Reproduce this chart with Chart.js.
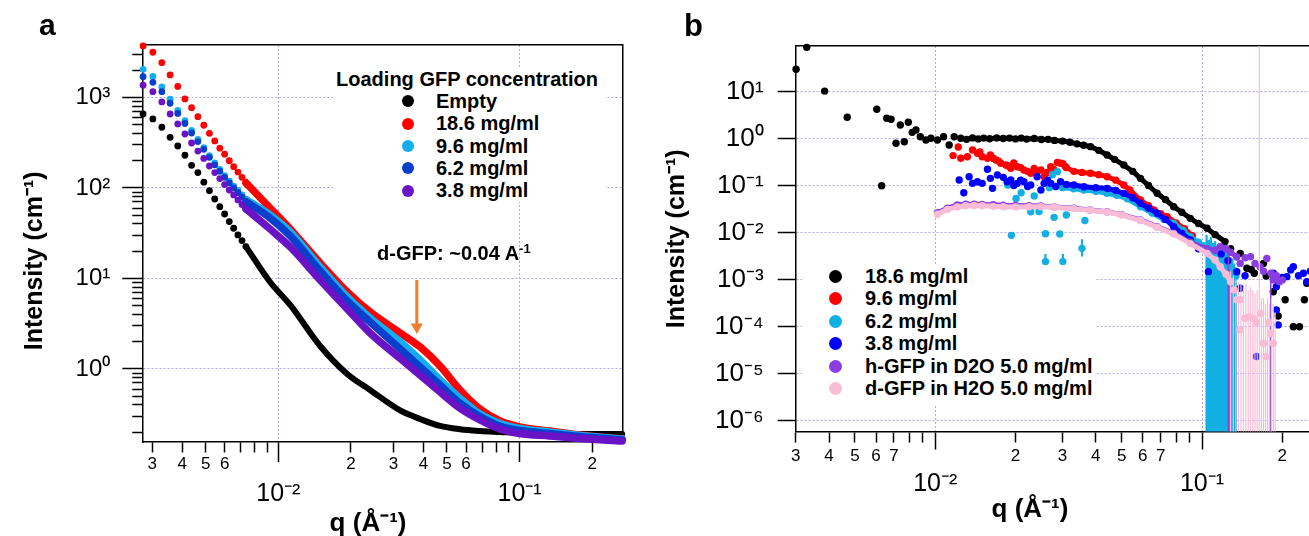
<!DOCTYPE html>
<html>
<head>
<meta charset="utf-8">
<title>GFP loading SANS</title>
<script src="https://cdn.jsdelivr.net/npm/chart.js@4.4.1/dist/chart.umd.min.js"></script>
<style>
  html, body { margin: 0; padding: 0; background: #fff; }
  body { position: relative; width: 1309px; height: 536px; overflow: hidden;
         font-family: "Liberation Sans", Arial, Helvetica, sans-serif; color: #000; }
  canvas { position: absolute; top: 0; }
  #chart-a { left: 0; }
  #chart-b { left: 660px; }
  .tag { position: absolute; font-weight: bold; line-height: 1; }
  .legend { position: absolute; background: #fff; font-weight: bold; font-size: 20px; }
  .legend .row { display: flex; align-items: center; white-space: nowrap; }
  .legend .dot { border-radius: 50%; flex: none; }
  .note { position: absolute; font-weight: bold; font-size: 20px; line-height: 20px; white-space: nowrap; }
  .note sup { font-size: 13px; vertical-align: 7px; line-height: 0; }
</style>
</head>
<body>
<canvas id="chart-a" width="660" height="536"></canvas>
<canvas id="chart-b" width="680" height="536"></canvas>
<div class="tag" style="left:39px;top:10px;font-size:30px">a</div>
<div class="tag" style="left:684px;top:10px;font-size:31px">b</div>
<div id="legend-a" class="legend" style="left:333px;top:68px;width:268px;padding-right:4px"></div>
<div id="legend-b" class="legend" style="left:802px;top:265px;width:294px;padding-bottom:6px"></div>
<div class="note" style="left:377px;top:243px">d-GFP: ~0.04 A<sup>-1</sup></div>
<script>
// ---- panel a: loading GFP concentration ----
const aNames = ['Empty', '18.6 mg/ml', '9.6 mg/ml', '6.2 mg/ml', '3.8 mg/ml'];
const aColors = ['#000000', '#ff0000', '#14aef0', '#0a3fcb', '#6a12c6'];

// low q, individual points
const aQLow = [0.00275, 0.00302, 0.00329, 0.00356, 0.00383, 0.0041, 0.00437, 0.00464, 0.00491, 0.00518,
  0.00545, 0.00572, 0.00599, 0.00626, 0.00653, 0.0068, 0.00707, 0.00734];
const aEmptyLow = [657, 579, 469, 363, 291, 230, 178, 148, 116, 93.3, 75.5, 62.1, 51.6, 42.5, 35.9, 30.3, 26.2, 22.5];
const a186Low = [3707, 3158, 2424, 1773, 1323, 963, 771, 614, 493, 402, 331, 275, 236, 200, 172, 150, 131, 114];
const a96Low = [2049, 1706, 1306, 958, 719, 553, 434, 344, 279, 228, 189, 160, 137, 119, 105, 93.8, 83.7, 74.6];
const a62Low = [1697, 1472, 1159, 863, 666, 516, 405, 326, 267, 218, 180, 153, 131, 114, 100, 88.7, 79.1, 70.6];
const a38Low = [1364, 1159, 894, 657, 510, 395, 314, 256, 212, 175, 148, 127, 109, 95.0, 83.7, 73.7, 65.7, 58.6];

// higher q, where the points merge into a band
const aQHigh = [0.00734, 0.00924, 0.0112, 0.0149, 0.0193, 0.024, 0.032, 0.0387, 0.0468, 0.0566,
  0.0685, 0.0829, 0.1, 0.133, 0.178, 0.266];
const aEmptyHigh = [22.5, 9.15, 5.10, 1.795, 0.881, 0.586, 0.348, 0.280, 0.2346, 0.2157, 0.2065, 0.2013, 0.1963, 0.193, 0.191, 0.191];
const a186High = [114, 60.1, 35.2, 14.8, 7.09, 4.26, 2.50, 1.75, 1.079, 0.586, 0.361, 0.266, 0.229, 0.206, 0.1865, 0.1684];
const a96High = [74.6, 50.3, 32.7, 13.4, 6.25, 3.66, 1.99, 1.257, 0.756, 0.4745, 0.318, 0.250, 0.220, 0.201, 0.184, 0.168];
const a62High = [70.6, 46.6, 29.5, 12.1, 5.64, 3.31, 1.66, 1.052, 0.666, 0.418, 0.299, 0.2346, 0.209, 0.1937, 0.1795, 0.1643];
const a38High = [58.6, 35.2, 22.3, 9.62, 4.60, 2.50, 1.306, 0.858, 0.557, 0.368, 0.273, 0.2173, 0.1937, 0.1818, 0.1706, 0.160];

// orange marker at the d-GFP shoulder
const aArrowQ = [0.0375, 0.0375];
const aArrowI = [9.6, 2.91];

// axis ticks, panel a
const aXDecades = [0.01, 0.1];
const aXDecadeText = ['10⁻²', '10⁻¹'];
const aXMinor = [0.003, 0.004, 0.005, 0.006, 0.007, 0.008, 0.009, 0.02, 0.03, 0.04, 0.05, 0.06, 0.07, 0.08, 0.09, 0.2];
const aXMinorText = ['3', '4', '5', '6', '', '', '', '2', '3', '4', '5', '6', '', '', '', '2'];
const aYDecades = [1, 10, 100, 1000];
const aYDecadeText = ['10⁰', '10¹', '10²', '10³'];
const aYMinor = [0.2, 0.3, 0.4, 0.5, 0.6, 0.7, 0.8, 0.9, 2, 3, 4, 5, 6, 7, 8, 9,
  20, 30, 40, 50, 60, 70, 80, 90, 200, 300, 400, 500, 600, 700, 800, 900, 2000, 3000];

// ---- panel b: protein in solution ----
const bNames = ['18.6 mg/ml', '9.6 mg/ml', '6.2 mg/ml', '3.8 mg/ml', 'h-GFP in D2O 5.0 mg/ml', 'd-GFP in H2O 5.0 mg/ml'];
const bColors = ['#000000', '#ff0000', '#12afe3', '#0000ff', '#8a3ee0', '#f9bcd6'];

const bBlackLowQ = [0.00301, 0.0033, 0.00385, 0.00468, 0.00604, 0.0063, 0.00658, 0.00683, 0.00713, 0.0074, 0.00766,
  0.00793, 0.0082, 0.00847, 0.00879, 0.00923, 0.00964, 0.0102, 0.01075, 0.01128, 0.01178, 0.01247];
const bBlackLowI = [29.7, 87, 10.2, 2.83, 4.18, 0.099, 2.69, 2.56, 0.79, 1.94, 0.855,
  2.21, 1.35, 1.52, 1.09, 0.93, 1.01, 0.93, 1.09, 0.727, 1.09, 1.01];
const bBlackMidQ = [0.0131, 0.0138, 0.0145, 0.0152, 0.016, 0.017, 0.018, 0.019, 0.02, 0.021, 0.022, 0.0235, 0.025,
  0.0265, 0.028, 0.03, 0.032, 0.034, 0.036, 0.0382, 0.041, 0.0441, 0.047, 0.0509, 0.055, 0.0588, 0.063, 0.0679,
  0.073, 0.0783, 0.084, 0.0904, 0.097, 0.1045, 0.112, 0.122];
const bBlackMidI = [0.96, 1.03, 0.98, 1.02, 0.99, 1.03, 1.0, 1.02, 0.98, 1.02, 0.97, 1.0, 0.95,
  0.96, 0.91, 0.88, 0.83, 0.77, 0.72, 0.67, 0.56, 0.446, 0.36, 0.273, 0.2, 0.142, 0.1, 0.0682,
  0.05, 0.0354, 0.027, 0.02, 0.0155, 0.0123, 0.009, 0.0064];
const bBlackHighQ = [0.128, 0.139, 0.1473, 0.153, 0.157, 0.17, 0.174, 0.185, 0.193, 0.205, 0.22, 0.232, 0.242, 0.247, 0.262, 0.285];
const bBlackHighI = [0.0045, 0.0036, 0.00173, 0.00164, 0.00136, 0.0022, 0.00118, 0.00055, 0.000167, 0.00037,
  0.000099, 0.000099, 0.00037, 0.00083, 0.0009, 0.0011];

const bRedLowQ = [0.01167, 0.0122, 0.01247, 0.0132, 0.0138, 0.0144, 0.0147, 0.015, 0.0157, 0.0161, 0.0165, 0.0169,
  0.0173, 0.0176, 0.0184, 0.0188, 0.0192, 0.0197, 0.0203, 0.0209, 0.0215, 0.0222, 0.0228, 0.0235, 0.0241, 0.0249,
  0.0256, 0.0263, 0.0271, 0.0278, 0.0287, 0.0295, 0.0301, 0.0308];
const bRedLowI = [0.433, 0.66, 0.379, 0.41, 0.569, 0.484, 0.52, 0.41, 0.379, 0.446, 0.38, 0.349,
  0.33, 0.297, 0.273, 0.26, 0.232, 0.3, 0.251, 0.24, 0.214, 0.2, 0.182, 0.23, 0.196, 0.214,
  0.154, 0.19, 0.251, 0.22, 0.31, 0.297, 0.29, 0.25];
const bRedHighQ = [0.031, 0.0331, 0.0355, 0.0382, 0.041, 0.0441, 0.0475, 0.0509, 0.0537, 0.0588, 0.063, 0.066,
  0.07, 0.074, 0.08, 0.086, 0.092];
const bRedHighI = [0.24, 0.2, 0.19, 0.182, 0.17, 0.154, 0.13, 0.1025, 0.08, 0.049, 0.037, 0.03,
  0.025, 0.0217, 0.016, 0.012, 0.0085];

const bCyanLowQ = [0.0187, 0.0193, 0.0201, 0.021, 0.0228, 0.0235, 0.0245, 0.0259, 0.0259, 0.0268, 0.0275, 0.0279,
  0.0287, 0.0293, 0.0301, 0.031, 0.0355, 0.0364];
const bCyanLowI = [0.1025, 0.0087, 0.053, 0.07, 0.0277, 0.06, 0.028, 0.0094, 0.0024, 0.09, 0.17, 0.021,
  0.197, 0.0093, 0.0024, 0.0236, 0.0046, 0.018];
const bCyanHighQ = [0.03, 0.033, 0.036, 0.04, 0.044, 0.048, 0.0525, 0.0588, 0.065, 0.072, 0.0783, 0.085, 0.0904,
  0.097, 0.102, 0.106, 0.11, 0.116, 0.122, 0.128, 0.134];
const bCyanHighI = [0.09, 0.085, 0.08, 0.075, 0.068, 0.062, 0.052, 0.0354, 0.026, 0.019, 0.0157, 0.011, 0.0081,
  0.0062, 0.0052, 0.004, 0.0035, 0.0028, 0.0022, 0.0017, 0.0012];
const bCyanBarQ = [0.0259, 0.0301, 0.0355, 0.104, 0.106, 0.108, 0.11, 0.112, 0.114, 0.116, 0.118, 0.12, 0.122,
  0.124, 0.126, 0.128, 0.13, 0.132, 0.134];
const bCyanBarLo = [0.0017, 0.0017, 0.0031, 1e-7, 1e-7, 1e-7, 1e-7, 1e-7, 1e-7, 1e-7, 1e-7, 1e-7, 1e-7,
  1e-7, 1e-7, 1e-7, 1e-7, 1e-7, 1e-7];
const bCyanBarHi = [0.0035, 0.0035, 0.0072, 0.009, 0.007, 0.008, 0.006, 0.0065, 0.005, 0.0055, 0.0045, 0.005, 0.004,
  0.0042, 0.0035, 0.003, 0.0028, 0.0022, 0.0018];

const bBlueLowQ = [0.0123, 0.0128, 0.0134, 0.0138, 0.0144, 0.015, 0.0157, 0.0161, 0.0164, 0.0171, 0.018, 0.0186,
  0.0192, 0.0197, 0.0203, 0.0209, 0.0215, 0.0222, 0.0228, 0.0241, 0.0249, 0.0256, 0.0264, 0.0271, 0.0283, 0.0295];
const bBlueLowI = [0.131, 0.0703, 0.154, 0.111, 0.12, 0.111, 0.221, 0.142, 0.087, 0.167, 0.149, 0.12,
  0.131, 0.1, 0.111, 0.13, 0.12, 0.095, 0.1025, 0.154, 0.08, 0.111, 0.13, 0.111, 0.095, 0.12];
const bBlueMidQ = [0.031, 0.0331, 0.0361, 0.04, 0.0441, 0.0475, 0.0509, 0.055, 0.0588, 0.063, 0.0679, 0.073,
  0.0783, 0.084, 0.0904, 0.097];
const bBlueMidI = [0.105, 0.1025, 0.094, 0.09, 0.087, 0.078, 0.068, 0.055, 0.0418, 0.033, 0.0256, 0.019,
  0.0133, 0.0095, 0.0069, 0.0045];
const bBlueHighQ = [0.1057, 0.118, 0.125, 0.135, 0.139, 0.145, 0.16, 0.185, 0.19, 0.19, 0.193, 0.2, 0.208, 0.215,
  0.22, 0.23, 0.24, 0.247, 0.255];
const bBlueHighI = [0.00147, 0.0035, 0.0025, 0.00146, 0.00065, 0.0012, 0.000023, 0.00136, 0.0007, 0.000225,
  0.000108, 0.0011, 0.00115, 0.0016, 0.00187, 0.0012, 0.00136, 0.0009, 0.0015];

const bPurpleQ = [0.0102, 0.0111, 0.0121, 0.013, 0.014, 0.015, 0.0165, 0.018, 0.02, 0.0225, 0.0249, 0.028, 0.0331,
  0.038, 0.0441, 0.05, 0.0588, 0.0679, 0.0783, 0.0904, 0.1045, 0.112, 0.117, 0.123, 0.128, 0.135];
const bPurpleI = [0.0264, 0.0327, 0.0385, 0.0398, 0.04, 0.0395, 0.039, 0.038, 0.0375, 0.037, 0.0366, 0.035, 0.0327,
  0.030, 0.0277, 0.024, 0.0185, 0.0133, 0.0096, 0.0062, 0.0045, 0.0042, 0.005, 0.0045, 0.0038, 0.003];
const bPurpleHighQ = [0.139, 0.145, 0.152, 0.158, 0.165, 0.17, 0.175, 0.1813, 0.185, 0.19, 0.195, 0.2];
const bPurpleHighI = [0.0022, 0.0029, 0.00306, 0.0022, 0.00187, 0.0015, 0.0028, 0.00136, 0.00098, 0.0012, 0.0009, 0.00098];
const bPurpleBarQ = [0.1256, 0.181];
const bPurpleBarLo = [1e-7, 1e-7];
const bPurpleBarHi = [0.0035, 0.0012];

const bPinkQ = [0.0102, 0.0111, 0.0121, 0.013, 0.014, 0.015, 0.0165, 0.018, 0.02, 0.0225, 0.0249, 0.028, 0.0331,
  0.038, 0.0441, 0.05, 0.0588, 0.0679, 0.0783, 0.0904, 0.1045, 0.112, 0.117, 0.123, 0.128];
const bPinkI = [0.0244, 0.031, 0.035, 0.037, 0.0375, 0.037, 0.036, 0.0355, 0.035, 0.0352, 0.0355, 0.0345, 0.0322,
  0.0298, 0.0272, 0.0235, 0.018, 0.013, 0.0093, 0.0058, 0.0036, 0.0026, 0.00187, 0.0013, 0.0009];
const bPinkHighQ = [0.132, 0.135, 0.139, 0.139, 0.145, 0.15, 0.156, 0.16, 0.166, 0.17, 0.174, 0.178, 0.181, 0.185];
const bPinkHighI = [0.0006, 0.00037, 0.00037, 0.000084, 0.00015, 0.00016, 0.000149, 0.00012, 0.00019, 0.000044,
  0.0000228, 0.00012, 0.000072, 0.000044];
const bPinkBarQ = [0.128, 0.131, 0.134, 0.137, 0.14, 0.143, 0.146, 0.149, 0.152, 0.155, 0.158, 0.161, 0.164, 0.167,
  0.17, 0.173, 0.176, 0.179, 0.182, 0.185, 0.188];
const bPinkBarLo = [1e-7, 1e-7, 1e-7, 1e-7, 1e-7, 1e-7, 1e-7, 1e-7, 1e-7, 1e-7, 1e-7, 1e-7, 1e-7, 1e-7,
  1e-7, 1e-7, 1e-7, 1e-7, 1e-7, 1e-7, 1e-7];
const bPinkBarHi = [0.0015, 0.0012, 0.001, 0.0009, 0.0008, 0.0007, 0.0008, 0.0006, 0.0007, 0.0006, 0.0005, 0.0006,
  1000, 0.0004, 0.0004, 0.0003, 0.0004, 0.0003, 0.0004, 0.0003, 0.0002];

// axis ticks, panel b
const bXDecades = [0.01, 0.1];
const bXDecadeText = ['10⁻²', '10⁻¹'];
const bXMinor = [0.003, 0.004, 0.005, 0.006, 0.007, 0.008, 0.009, 0.02, 0.03, 0.04, 0.05, 0.06, 0.07, 0.08, 0.09, 0.2];
const bXMinorText = ['3', '4', '5', '6', '7', '', '', '2', '3', '4', '5', '6', '7', '', '', '2'];
const bYDecades = [1e-6, 1e-5, 1e-4, 1e-3, 1e-2, 1e-1, 1, 10];
const bYDecadeText = ['10⁻⁶', '10⁻⁵', '10⁻⁴', '10⁻³', '10⁻²', '10⁻¹', '10⁰', '10¹'];

// ---- helpers ----
const GRID = '#a9a9ee';
const ORANGE = '#ed7d31';
Chart.defaults.font.family = '"Liberation Sans", Arial, Helvetica, sans-serif';
Chart.defaults.color = '#000';

const pts = (xs, ys) => xs.map((x, i) => ({ x, y: ys[i] }));
const bars = (xs, lo, hi) => xs.flatMap((x, i) => [{ x, y: lo[i] }, { x, y: hi[i] }, { x, y: null }]);

// log axes with Igor-style ticks: long ticks + dotted grid on decades, short ticks elsewhere
function frame(p) {
  const xAll = p.xMinor.concat(p.xDecades).sort((a, b) => a - b);
  const yAll = p.yMinor.concat(p.yDecades).sort((a, b) => a - b);
  const onX = ctx => !!ctx.tick && p.xDecades.includes(ctx.tick.value);
  const onY = ctx => !!ctx.tick && p.yDecades.includes(ctx.tick.value);
  const line = { display: true, color: '#000', width: 1.5, dash: [2, 2] };
  return {
    x: {
      type: 'logarithmic', position: 'bottom', weight: 0,
      min: p.xMin, max: p.xMax,
      afterBuildTicks: s => { s.ticks = xAll.map(v => ({ value: v })); },
      afterFit: s => { s.height = p.xHeight; },
      border: line,
      grid: {
        color: ctx => onX(ctx) ? GRID : 'transparent',
        lineWidth: 1,
        tickLength: p.xMajor,
        tickColor: '#000',
        tickWidth: 1.5,
        tickBorderDash: ctx => onX(ctx) ? [] : [p.minor, 60]
      },
      ticks: {
        autoSkip: false, maxRotation: 0, minRotation: 0,
        padding: p.xLabelPad,
        font: { size: 17 },
        callback: v => { const i = p.xMinor.indexOf(v); return i < 0 ? '' : p.xMinorText[i]; }
      }
    },
    y: {
      type: 'logarithmic', position: 'left',
      min: p.yMin, max: p.yMax,
      afterBuildTicks: s => { s.ticks = yAll.map(v => ({ value: v })); },
      afterFit: s => { s.width = p.yWidth; },
      border: line,
      grid: {
        color: ctx => onY(ctx) ? GRID : 'transparent',
        lineWidth: 1,
        tickLength: p.yMajor,
        tickColor: '#000',
        tickWidth: 1.5,
        tickBorderDash: ctx => onY(ctx) ? [] : [0, p.yMajor - p.minor, p.minor, 0]
      },
      ticks: {
        autoSkip: false,
        padding: p.yLabelPad,
        font: { size: p.yFont },
        callback: v => { const i = p.yDecades.indexOf(v); return i < 0 ? '' : p.yDecadeText[i]; }
      },
      title: {
        display: true, text: p.yTitle,
        font: { size: 25, weight: 'bold' },
        padding: { top: p.yTitlePad, bottom: 0 }
      }
    },
    x2: {
      type: 'logarithmic', position: 'bottom', weight: 1,
      min: p.xMin, max: p.xMax,
      afterBuildTicks: s => { s.ticks = p.xDecades.map(v => ({ value: v })); },
      afterFit: s => { s.height = p.x2Height; },
      border: { display: false },
      grid: { display: false, drawTicks: false },
      ticks: {
        autoSkip: false, maxRotation: 0, minRotation: 0,
        padding: p.x2Pad,
        font: { size: 25 },
        callback: v => p.xDecadeText[p.xDecades.indexOf(v)]
      },
      title: {
        display: true, text: p.xTitle,
        font: { size: 26, weight: 'bold' },
        padding: { top: 0, bottom: p.xTitlePad }
      }
    },
    xTop: {
      type: 'linear', position: 'top',
      afterFit: s => { s.height = 0; },
      grid: { display: false, drawTicks: false },
      ticks: { display: false },
      border: { color: '#000', width: 1.5 }
    },
    yRight: {
      type: 'linear', position: 'right',
      afterFit: s => { s.width = 0; },
      grid: { display: false, drawTicks: false },
      ticks: { display: false },
      border: { color: '#000', width: 1.5 }
    }
  };
}

function buildLegend(el, title, names, colors, o) {
  let html = title ? `<div style="height:${o.row}px;line-height:${o.row}px;text-align:center">${title}</div>` : '';
  names.forEach((n, i) => {
    html += `<div class="row" style="height:${o.row}px;padding-left:${o.pad}px">` +
      `<span class="dot" style="width:${o.dot}px;height:${o.dot}px;background:${colors[i]};margin-right:${o.gap}px"></span>${n}</div>`;
  });
  el.innerHTML = html;
}

// ---- chart a ----
const aSeries = [
  { low: aEmptyLow, high: aEmptyHigh, width: 6 },
  { low: a186Low, high: a186High, width: 7.5 },
  { low: a96Low, high: a96High, width: 7.5 },
  { low: a62Low, high: a62High, width: 7.5 },
  { low: a38Low, high: a38High, width: 7.5 }
];
const dsA = [{
  data: pts(aArrowQ, aArrowI),
  showLine: true, borderColor: ORANGE, borderWidth: 3,
  pointRadius: [0, 7], pointStyle: 'triangle', pointRotation: 180,
  pointBackgroundColor: ORANGE, pointBorderWidth: 0,
  order: 0, clip: false
}];
aSeries.forEach((s, i) => {
  dsA.push({
    label: aNames[i], data: pts(aQLow, s.low),
    pointRadius: 3.4, pointBackgroundColor: aColors[i], pointBorderWidth: 0,
    order: 10 - i, clip: false
  });
  dsA.push({
    label: aNames[i], data: pts(aQHigh, s.high),
    showLine: true, borderColor: aColors[i], borderWidth: s.width,
    borderCapStyle: 'round', borderJoinStyle: 'round',
    cubicInterpolationMode: 'monotone', pointRadius: 0,
    order: 10 - i, clip: false
  });
});

new Chart(document.getElementById('chart-a'), {
  type: 'scatter',
  data: { datasets: dsA },
  options: {
    responsive: false, animation: false, events: [],
    layout: { padding: { left: 0, top: 45, right: 37.3, bottom: 0 } },
    plugins: { legend: { display: false }, tooltip: { enabled: false } },
    scales: frame({
      xMin: 0.00273, xMax: 0.2675, yMin: 0.156, yMax: 3800,
      xMinor: aXMinor, xMinorText: aXMinorText, xDecades: aXDecades, xDecadeText: aXDecadeText,
      yMinor: aYMinor, yDecades: aYDecades, yDecadeText: aYDecadeText,
      xMajor: 20, yMajor: 20, minor: 10,
      xHeight: 31, x2Height: 63, yWidth: 142.3,
      xLabelPad: -8, x2Pad: 6, yLabelPad: 12, yFont: 24,
      yTitle: 'Intensity (cm⁻¹)\u00a0\u00a0\u00a0\u00a0\u00a0', yTitlePad: 20,
      xTitle: 'q (Å⁻¹)\u00a0\u00a0\u00a0\u00a0', xTitlePad: -3.4
    })
  }
});
buildLegend(document.getElementById('legend-a'), 'Loading GFP concentration', aNames, aColors,
  { row: 22.3, pad: 69, dot: 12, gap: 22 });

// ---- chart b ----
const bSeries = [
  { scatter: [pts(bBlackLowQ, bBlackLowI), pts(bBlackHighQ, bBlackHighI)], curve: pts(bBlackMidQ, bBlackMidI) },
  { scatter: [pts(bRedLowQ, bRedLowI)], curve: pts(bRedHighQ, bRedHighI) },
  { scatter: [pts(bCyanLowQ, bCyanLowI)], curve: pts(bCyanHighQ, bCyanHighI),
    bars: bars(bCyanBarQ, bCyanBarLo, bCyanBarHi), barWidth: 2.2 },
  { scatter: [pts(bBlueLowQ, bBlueLowI), pts(bBlueHighQ, bBlueHighI)], curve: pts(bBlueMidQ, bBlueMidI) },
  { scatter: [pts(bPurpleHighQ, bPurpleHighI)], curve: pts(bPurpleQ, bPurpleI),
    bars: bars(bPurpleBarQ, bPurpleBarLo, bPurpleBarHi), barWidth: 1.5 },
  { scatter: [pts(bPinkHighQ, bPinkHighI)], curve: pts(bPinkQ, bPinkI),
    bars: bars(bPinkBarQ, bPinkBarLo, bPinkBarHi), barWidth: 1.2 }
];
const dsB = [];
bSeries.forEach((s, i) => {
  const c = bColors[i];
  const order = 10 - i;
  if (s.bars) {
    dsB.push({ data: s.bars, showLine: true, spanGaps: false, borderColor: c, borderWidth: s.barWidth,
      pointRadius: 0, order });
  }
  s.scatter.forEach(d => dsB.push({
    label: bNames[i], data: d, pointRadius: 3.7, pointBackgroundColor: c, pointBorderWidth: 0, order, clip: false
  }));
  dsB.push({
    label: bNames[i], data: s.curve, showLine: true, borderColor: c, borderWidth: 5,
    pointRadius: 3.7, pointBackgroundColor: c, pointBorderWidth: 0, order, clip: false
  });
});

new Chart(document.getElementById('chart-b'), {
  type: 'scatter',
  data: { datasets: dsB },
  options: {
    responsive: false, animation: false, events: [],
    layout: { padding: { left: 0, top: 46, right: 10.7, bottom: 0 } },
    plugins: { legend: { display: false }, tooltip: { enabled: false } },
    scales: frame({
      xMin: 0.003, xMax: 0.3, yMin: 5.83e-7, yMax: 92.9,
      xMinor: bXMinor, xMinorText: bXMinorText, xDecades: bXDecades, xDecadeText: bXDecadeText,
      yMinor: [], yDecades: bYDecades, yDecadeText: bYDecadeText,
      xMajor: 18, yMajor: 18, minor: 10,
      xHeight: 33.8, x2Height: 70.7, yWidth: 135.7,
      xLabelPad: -3.4, x2Pad: 3.5, yLabelPad: 14, yFont: 26,
      yTitle: 'Intensity (cm⁻¹)', yTitlePad: 2,
      xTitle: 'q (Å⁻¹)' + '\u00a0'.repeat(9), xTitlePad: 11
    })
  }
});
buildLegend(document.getElementById('legend-b'), '', bNames, bColors,
  { row: 22.5, pad: 27, dot: 13, gap: 23 });
</script>
</body>
</html>
